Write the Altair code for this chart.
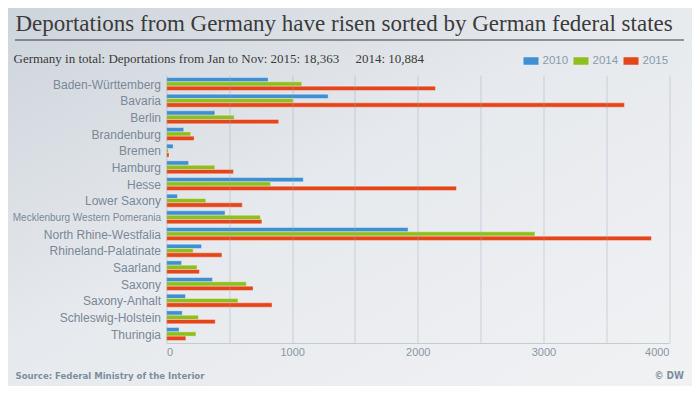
import altair as alt
import pandas as pd

states = ["Baden-Württemberg", "Bavaria", "Berlin", "Brandenburg", "Bremen", "Hamburg",
          "Hesse", "Lower Saxony", "Mecklenburg Western Pomerania", "North Rhine-Westfalia",
          "Rhineland-Palatinate", "Saarland", "Saxony", "Saxony-Anhalt",
          "Schleswig-Holstein", "Thuringia"]
years = ["2010", "2014", "2015"]
v2010 = [809, 1287, 385, 137, 53, 176, 1089, 87, 466, 1923, 279, 120, 366, 151, 126, 100]
v2014 = [1077, 1008, 539, 193, 14, 385, 829, 313, 748, 2933, 212, 243, 636, 569, 254, 234]
v2015 = [2141, 3645, 893, 220, 20, 533, 2308, 603, 759, 3860, 441, 262, 689, 840, 388, 154]
colors = ["#3f8fd2", "#8fbf1e", "#e3461b"]
x_ticks = [0, 500, 1000, 1500, 2000, 2500, 3000, 3500, 4000]

title_text = "Deportations from Germany have risen sorted by German federal states"
subtitle_text = "Germany in total: Deportations from Jan to Nov: 2015: 18,363\u00a0\u00a0\u00a0\u00a0 2014: 10,884"
source_text = "Source: Federal Ministry of the Interior"
credit_text = "© DW"

rows = []
for i, s in enumerate(states):
    for y, vals in zip(years, [v2010, v2014, v2015]):
        rows.append({"state": s, "year": y, "value": vals[i]})
df = pd.DataFrame(rows)
labels_df = pd.DataFrame({"state": states})

W, H = 502.5, 268
PL, PT, PR, PB = 158.5, 67, 23, 43

one = pd.DataFrame({"k": [0]})

bg = alt.Chart(one).mark_rect(
    color=alt.LinearGradient(
        gradient="linear",
        stops=[alt.GradientStop(color="#cdd4db", offset=0),
               alt.GradientStop(color="#e6e9ed", offset=0.45),
               alt.GradientStop(color="#f1f2f4", offset=1)],
        x1=0, y1=0, x2=1, y2=1)
).encode(x=alt.value(-PL), x2=alt.value(W + PR), y=alt.value(-PT), y2=alt.value(H + PB))

y_enc = alt.Y("state:N", sort=states,
              scale=alt.Scale(paddingInner=0.22, paddingOuter=0.15),
              axis=alt.Axis(title=None, domain=False, ticks=False, grid=False, labels=False))

bars = alt.Chart(df).mark_bar(stroke="white", strokeOpacity=0.35, strokeWidth=1).encode(
    x=alt.X("value:Q", scale=alt.Scale(domain=[0, 4000], nice=False),
            axis=alt.Axis(title=None, values=x_ticks, format="d",
                          labelExpr="datum.value % 1000 == 0 ? datum.label : ''",
                          grid=True, gridColor="#9aa8b5", gridOpacity=0.4,
                          ticks=False, domain=True, domainColor="#c3ccd4",
                          labelFont="Liberation Sans", labelFontSize=11,
                          labelColor="#8a97a4", labelPadding=3, zindex=1)),
    y=y_enc,
    yOffset=alt.YOffset("year:N", sort=years, scale=alt.Scale(paddingInner=0, paddingOuter=0)),
    color=alt.Color("year:N", scale=alt.Scale(domain=years, range=colors),
                    legend=alt.Legend(title=None, orient="none", legendX=357, legendY=-21.5,
                                      direction="horizontal", padding=0,
                                      symbolType="M-1,-0.5H1V0.5H-1Z", symbolSize=225,
                                      symbolStrokeWidth=0, symbolOpacity=1,
                                      labelFont="Liberation Sans", labelFontSize=11.5,
                                      labelColor="#8a9aab", labelOffset=4, columnPadding=5)),
)

ylabels = alt.Chart(labels_df).mark_text(
    font="Liberation Sans", color="#7a8898", align="right", baseline="middle", dy=0.5
).encode(
    y=alt.Y("state:N", sort=states),
    x=alt.value(-5.5),
    text="state:N",
    size=alt.condition("datum.state == 'Mecklenburg Western Pomerania'", alt.value(10), alt.value(12)),
)

title = alt.Chart(pd.DataFrame({"t": [title_text]})).mark_text(
    font="Liberation Serif", fontSize=23, color="#3b3b3b", align="left", baseline="alphabetic"
).encode(text="t:N", x=alt.value(-151), y=alt.value(-44))

rule = alt.Chart(one).mark_rule(color="#3b3b3b", strokeWidth=1).encode(
    x=alt.value(-151.5), x2=alt.value(517.5), y=alt.value(-35))

subtitle = alt.Chart(pd.DataFrame({"t": [subtitle_text]})).mark_text(
    font="Liberation Serif", fontSize=13, color="#3b3b3b", align="left", baseline="alphabetic"
).encode(text="t:N", x=alt.value(-153), y=alt.value(-12))

source = alt.Chart(pd.DataFrame({"t": [source_text]})).mark_text(
    font="Liberation Sans Narrow, DejaVu Sans Condensed, Liberation Sans", fontSize=9.5,
    fontWeight="bold", color="#7c8fa0", align="left", baseline="alphabetic"
).encode(text="t:N", x=alt.value(-151), y=alt.value(304))

credit = alt.Chart(pd.DataFrame({"t": [credit_text]})).mark_text(
    font="Liberation Sans Narrow, DejaVu Sans Condensed, Liberation Sans", fontSize=10,
    fontWeight="bold", color="#7c8fa0", align="right", baseline="alphabetic"
).encode(text="t:N", x=alt.value(517.5), y=alt.value(304))

chart = alt.layer(bg, bars, ylabels, title, rule, subtitle, source, credit).properties(
    width=W, height=H,
    padding={"left": PL, "top": PT, "right": PR, "bottom": PB},
    autosize=alt.AutoSizeParams(type="none"),
    background="#e8ebee",
).configure_view(stroke=None)

chart.save("out.html", embed_options={"renderer": "svg", "actions": False})
